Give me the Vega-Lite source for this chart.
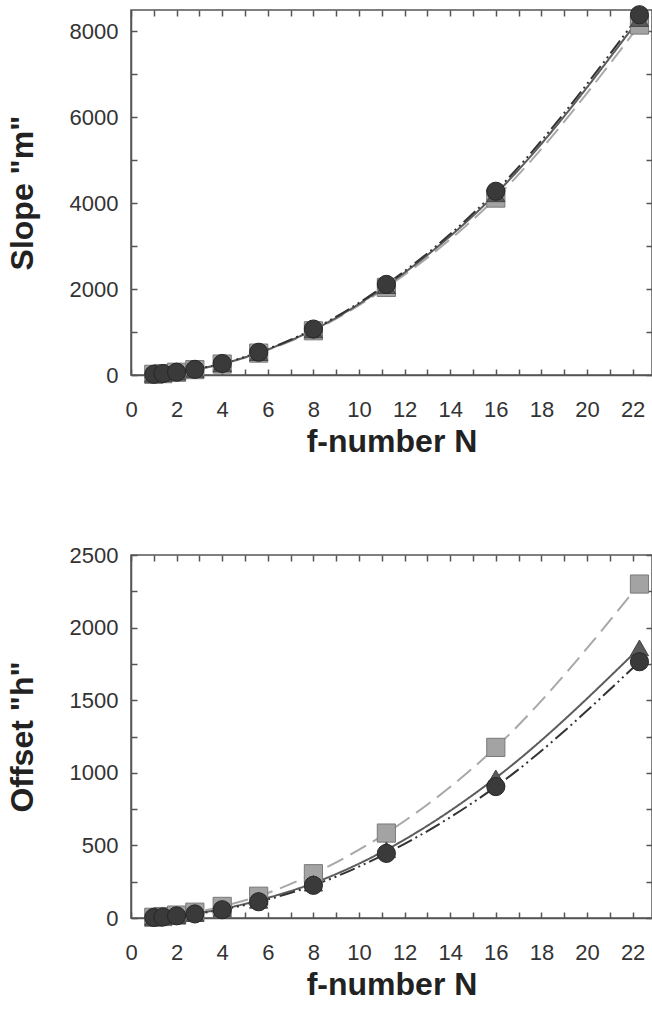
{
  "$schema": "https://vega.github.io/schema/vega-lite/v6.json",
  "padding": {"left": 5, "top": 2, "right": 0, "bottom": 0},
  "background": "white",
  "spacing": 85,
  "config": {
    "view": {"stroke": "#555", "strokeWidth": 1.5},
    "axis": {
      "labelFont": "Liberation Sans", "labelFontSize": 22, "labelColor": "#333",
      "titleFont": "Liberation Sans", "titleFontSize": 32, "titleFontWeight": "bold", "titleColor": "#222",
      "domainColor": "#555", "domainWidth": 1.5, "tickColor": "#555", "tickWidth": 1.5, "tickSize": -6,
      "grid": false, "labelFlush": false, "labelOverlap": false
    },
    "axisX": {"labelPadding": 30, "titlePadding": 6},
    "axisY": {"labelPadding": 19, "titlePadding": 30}
  },
  "datasets": {
    "slope": [
      {"N": 1, "value": 16, "series": "square"},
      {"N": 1.4, "value": 32, "series": "square"},
      {"N": 2, "value": 64, "series": "square"},
      {"N": 2.8, "value": 125, "series": "square"},
      {"N": 4, "value": 255, "series": "square"},
      {"N": 5.6, "value": 510, "series": "square"},
      {"N": 8, "value": 1030, "series": "square"},
      {"N": 11.2, "value": 2040, "series": "square"},
      {"N": 16, "value": 4120, "series": "square"},
      {"N": 22.3, "value": 8150, "series": "square"},
      {"N": 1, "value": 16, "series": "triangle"},
      {"N": 1.4, "value": 33, "series": "triangle"},
      {"N": 2, "value": 65, "series": "triangle"},
      {"N": 2.8, "value": 128, "series": "triangle"},
      {"N": 4, "value": 262, "series": "triangle"},
      {"N": 5.6, "value": 520, "series": "triangle"},
      {"N": 8, "value": 1050, "series": "triangle"},
      {"N": 11.2, "value": 2080, "series": "triangle"},
      {"N": 16, "value": 4220, "series": "triangle"},
      {"N": 22.3, "value": 8300, "series": "triangle"},
      {"N": 1, "value": 17, "series": "circle"},
      {"N": 1.4, "value": 34, "series": "circle"},
      {"N": 2, "value": 66, "series": "circle"},
      {"N": 2.8, "value": 132, "series": "circle"},
      {"N": 4, "value": 268, "series": "circle"},
      {"N": 5.6, "value": 530, "series": "circle"},
      {"N": 8, "value": 1070, "series": "circle"},
      {"N": 11.2, "value": 2110, "series": "circle"},
      {"N": 16, "value": 4280, "series": "circle"},
      {"N": 22.3, "value": 8390, "series": "circle"}
    ],
    "offset": [
      {"N": 1, "value": 5, "series": "square"},
      {"N": 1.4, "value": 10, "series": "square"},
      {"N": 2, "value": 20, "series": "square"},
      {"N": 2.8, "value": 40, "series": "square"},
      {"N": 4, "value": 80, "series": "square"},
      {"N": 5.6, "value": 150, "series": "square"},
      {"N": 8, "value": 305, "series": "square"},
      {"N": 11.2, "value": 585, "series": "square"},
      {"N": 16, "value": 1175, "series": "square"},
      {"N": 22.3, "value": 2300, "series": "square"},
      {"N": 1, "value": 4, "series": "triangle"},
      {"N": 1.4, "value": 8, "series": "triangle"},
      {"N": 2, "value": 16, "series": "triangle"},
      {"N": 2.8, "value": 31, "series": "triangle"},
      {"N": 4, "value": 62, "series": "triangle"},
      {"N": 5.6, "value": 122, "series": "triangle"},
      {"N": 8, "value": 240, "series": "triangle"},
      {"N": 11.2, "value": 470, "series": "triangle"},
      {"N": 16, "value": 965, "series": "triangle"},
      {"N": 22.3, "value": 1860, "series": "triangle"},
      {"N": 1, "value": 4, "series": "circle"},
      {"N": 1.4, "value": 7, "series": "circle"},
      {"N": 2, "value": 15, "series": "circle"},
      {"N": 2.8, "value": 28, "series": "circle"},
      {"N": 4, "value": 57, "series": "circle"},
      {"N": 5.6, "value": 112, "series": "circle"},
      {"N": 8, "value": 225, "series": "circle"},
      {"N": 11.2, "value": 445, "series": "circle"},
      {"N": 16, "value": 905, "series": "circle"},
      {"N": 22.3, "value": 1765, "series": "circle"}
    ]
  },
  "vconcat": [
    {
      "width": 521, "height": 365,
      "data": {"name": "slope"},
      "resolve": {"axis": {"x": "independent", "y": "independent"}},
      "layer": [
        {
          "mark": {"type": "line", "interpolate": "monotone", "strokeWidth": 2},
          "encoding": {
            "x": {"field": "N", "type": "quantitative", "scale": {"domain": [0, 22.85], "nice": false},
                  "axis": {"title": "f-number N", "values": [0,1,2,3,4,5,6,7,8,9,10,11,12,13,14,15,16,17,18,19,20,21,22], "labelExpr": "datum.value % 2 == 0 ? datum.label : ''"}},
            "y": {"field": "value", "type": "quantitative", "scale": {"domain": [0, 8500], "nice": false},
                  "axis": {"title": "Slope \"m\"", "values": [0,1000,2000,3000,4000,5000,6000,7000,8000], "labelExpr": "datum.value % 2000 == 0 ? datum.value : ''"}},
            "color": {"field": "series", "type": "nominal", "legend": null, "scale": {"domain": ["square", "triangle", "circle"], "range": ["#a8a8a8", "#5c5c5c", "#333333"]}},
            "strokeDash": {"field": "series", "type": "nominal", "legend": null, "scale": {"domain": ["square", "triangle", "circle"], "range": [[18, 8], [1, 0], [16, 4, 2, 4, 2, 4]]}}
          }
        },
        {
          "mark": {"type": "point", "filled": true, "size": 330, "strokeWidth": 1, "opacity": 1},
          "encoding": {
            "x": {"field": "N", "type": "quantitative", "axis": {"orient": "top", "labels": false, "title": null, "domain": false, "values": [0,1,2,3,4,5,6,7,8,9,10,11,12,13,14,15,16,17,18,19,20,21,22]}},
            "y": {"field": "value", "type": "quantitative", "axis": {"orient": "right", "labels": false, "title": null, "domain": false, "values": [0,1000,2000,3000,4000,5000,6000,7000,8000]}},
            "shape": {"field": "series", "type": "nominal", "legend": null, "scale": {"domain": ["square", "triangle", "circle"], "range": ["square", "triangle-up", "circle"]}},
            "fill": {"field": "series", "type": "nominal", "legend": null, "scale": {"domain": ["square", "triangle", "circle"], "range": ["#a3a3a3", "#5a5a5a", "#3a3a3a"]}},
            "stroke": {"field": "series", "type": "nominal", "legend": null, "scale": {"domain": ["square", "triangle", "circle"], "range": ["#7a7a7a", "#444444", "#262626"]}}
          }
        }
      ]
    },
    {
      "width": 521, "height": 363,
      "data": {"name": "offset"},
      "resolve": {"axis": {"x": "independent", "y": "independent"}},
      "layer": [
        {
          "mark": {"type": "line", "interpolate": "monotone", "strokeWidth": 2},
          "encoding": {
            "x": {"field": "N", "type": "quantitative", "scale": {"domain": [0, 22.85], "nice": false},
                  "axis": {"title": "f-number N", "values": [0,1,2,3,4,5,6,7,8,9,10,11,12,13,14,15,16,17,18,19,20,21,22], "labelExpr": "datum.value % 2 == 0 ? datum.label : ''"}},
            "y": {"field": "value", "type": "quantitative", "scale": {"domain": [0, 2500], "nice": false},
                  "axis": {"title": "Offset \"h\"", "values": [0,250,500,750,1000,1250,1500,1750,2000,2250,2500], "labelExpr": "datum.value % 500 == 0 ? datum.value : ''"}},
            "color": {"field": "series", "type": "nominal", "legend": null, "scale": {"domain": ["square", "triangle", "circle"], "range": ["#a8a8a8", "#5c5c5c", "#333333"]}},
            "strokeDash": {"field": "series", "type": "nominal", "legend": null, "scale": {"domain": ["square", "triangle", "circle"], "range": [[18, 8], [1, 0], [16, 4, 2, 4, 2, 4]]}}
          }
        },
        {
          "mark": {"type": "point", "filled": true, "size": 330, "strokeWidth": 1, "opacity": 1},
          "encoding": {
            "x": {"field": "N", "type": "quantitative", "axis": {"orient": "top", "labels": false, "title": null, "domain": false, "values": [0,1,2,3,4,5,6,7,8,9,10,11,12,13,14,15,16,17,18,19,20,21,22]}},
            "y": {"field": "value", "type": "quantitative", "axis": {"orient": "right", "labels": false, "title": null, "domain": false, "values": [0,250,500,750,1000,1250,1500,1750,2000,2250,2500]}},
            "shape": {"field": "series", "type": "nominal", "legend": null, "scale": {"domain": ["square", "triangle", "circle"], "range": ["square", "triangle-up", "circle"]}},
            "fill": {"field": "series", "type": "nominal", "legend": null, "scale": {"domain": ["square", "triangle", "circle"], "range": ["#a3a3a3", "#5a5a5a", "#3a3a3a"]}},
            "stroke": {"field": "series", "type": "nominal", "legend": null, "scale": {"domain": ["square", "triangle", "circle"], "range": ["#7a7a7a", "#444444", "#262626"]}}
          }
        }
      ]
    }
  ]
}
